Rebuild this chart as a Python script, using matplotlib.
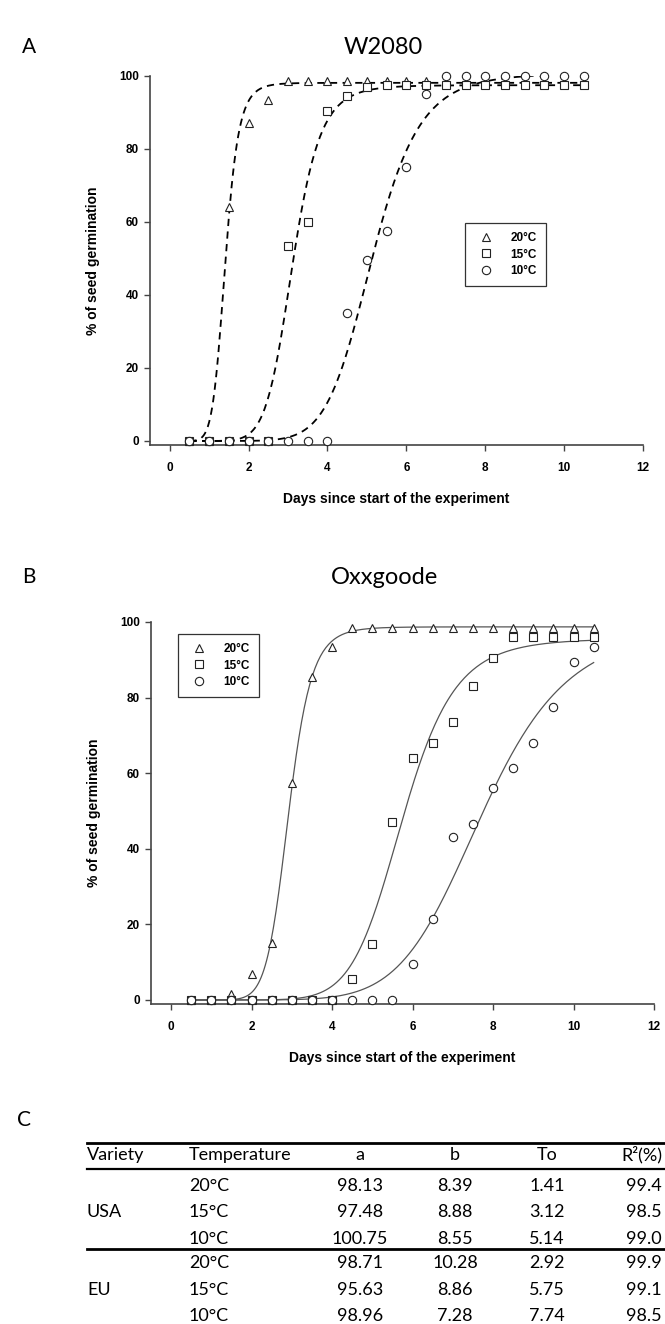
import numpy as np
import matplotlib.pyplot as plt
from matplotlib.lines import Line2D

plt.rcParams['font.family'] = ['Liberation Sans', 'DejaVu Sans']

# sampling days (every half day)
days = [0.5, 1.0, 1.5, 2.0, 2.5, 3.0, 3.5, 4.0, 4.5, 5.0, 5.5,
        6.0, 6.5, 7.0, 7.5, 8.0, 8.5, 9.0, 9.5, 10.0, 10.5]

# Panel A - W2080 (USA)
days_a20 = [0.5, 1.0, 1.5, 2.0, 2.5, 3.0, 3.5, 4.0, 4.5, 5.0, 5.5, 6.0, 6.5]
germ_a20 = [0, 0, 64, 87, 93.5, 98.5, 98.5, 98.5, 98.5, 98.5, 98.5, 98.5, 98.5]
germ_a15 = [0, 0, 0, 0, 0, 53.5, 60, 90.5, 94.5, 97, 97.5,
            97.5, 97.5, 97.5, 97.5, 97.5, 97.5, 97.5, 97.5, 97.5, 97.5]
germ_a10 = [0, 0, 0, 0, 0, 0, 0, 0, 35, 49.5, 57.5,
            75, 95, 100, 100, 100, 100, 100, 100, 100, 100]

# Panel B - Oxxgoode (EU)
germ_b20 = [0, 0, 1.5, 7, 15, 57.5, 85.5, 93.5, 98.5, 98.5, 98.5,
            98.5, 98.5, 98.5, 98.5, 98.5, 98.5, 98.5, 98.5, 98.5, 98.5]
germ_b15 = [0, 0, 0, 0, 0, 0, 0, 0, 5.5, 14.7, 47,
            64, 68, 73.5, 83, 90.5, 96, 96, 96, 96, 96]
germ_b10 = [0, 0, 0, 0, 0, 0, 0, 0, 0, 0, 0,
            9.4, 21.3, 43, 46.5, 56, 61.5, 68, 77.5, 89.5, 93.5]

# Panel C - fitted parameters
varieties = ['USA', 'EU']
temps = ['20°C', '15°C', '10°C']
par_a = [[98.13, 97.48, 100.75], [98.71, 95.63, 98.96]]
par_b = [[8.39, 8.88, 8.55], [10.28, 8.86, 7.28]]
par_to = [[1.41, 3.12, 5.14], [2.92, 5.75, 7.74]]
r2 = [[99.4, 98.5, 99.0], [99.9, 99.1, 98.5]]


def loglogistic(x, a, b, t0):
    return a / (1 + (x / t0) ** (-b))


W, H = 665, 1324
fig = plt.figure(figsize=(W / 100, H / 100), dpi=100)


def px_axes(left, right, top, bottom):
    return fig.add_axes([left / W, 1 - bottom / H, (right - left) / W, (bottom - top) / H])


def style_axes(ax, ymin):
    ax.set_xlim(-0.5, 12)
    ax.set_ylim(ymin, 100)
    ax.set_xticks([0, 2, 4, 6, 8, 10, 12])
    ax.set_yticks([0, 20, 40, 60, 80, 100])
    for s in ['top', 'right']:
        ax.spines[s].set_visible(False)
    for s in ['left', 'bottom']:
        ax.spines[s].set_color('#444444')
        ax.spines[s].set_linewidth(1.2)
    ax.tick_params(direction='out', length=4, width=1, color='#444444',
                   labelsize=8.5)
    ax.tick_params(axis='x', pad=8)
    ax.tick_params(axis='y', pad=4)
    for lab in ax.get_xticklabels() + ax.get_yticklabels():
        lab.set_fontweight('bold')
    ax.set_xlabel('Days since start of the experiment', fontsize=10,
                  fontweight='bold', labelpad=13)
    ax.set_ylabel('% of seed germination', fontsize=10, fontweight='bold',
                  labelpad=14)


mk = dict(linestyle='none', markerfacecolor='white', markeredgecolor='#222222',
          markersize=6, markeredgewidth=0.8, clip_on=False, zorder=3)
x_fit = np.linspace(0.5, 10.5, 300)


def add_legend(ax, anchor):
    handles = [Line2D([], [], marker=m, linestyle='none', markerfacecolor='white',
                      markeredgecolor='#222222', markersize=6, markeredgewidth=0.8)
               for m in ['^', 's', 'o']]
    leg = ax.legend(handles, temps, loc='upper left', bbox_to_anchor=anchor,
                    frameon=True, fancybox=False, edgecolor='black',
                    prop={'weight': 'bold', 'size': 8.5}, handlelength=2.0,
                    handletextpad=1.1, borderpad=0.75, labelspacing=0.4,
                    borderaxespad=0)
    leg.get_frame().set_linewidth(0.9)


# ---- panel A ----
axA = px_axes(150, 643, 76, 445)
for i in range(3):
    axA.plot(x_fit, loglogistic(x_fit, par_a[0][i], par_b[0][i], par_to[0][i]),
             color='black', linestyle=(0, (4, 3)), linewidth=1.3, zorder=2)
axA.plot(days_a20, germ_a20, marker='^', **mk)
axA.plot(days, germ_a15, marker='s', **mk)
axA.plot(days, germ_a10, marker='o', **mk)
style_axes(axA, -1.1)
add_legend(axA, ((465 - 150) / 493, (445 - 223) / 369))

# ---- panel B ----
axB = px_axes(151, 654, 622, 1004)
for i in range(3):
    axB.plot(x_fit, loglogistic(x_fit, par_a[1][i], par_b[1][i], par_to[1][i]),
             color='#555555', linestyle='-', linewidth=0.9, zorder=2)
axB.plot(days, germ_b20, marker='^', **mk)
axB.plot(days, germ_b15, marker='s', **mk)
axB.plot(days, germ_b10, marker='o', **mk)
style_axes(axB, -1.06)
add_legend(axB, ((178 - 151) / 503, (1004 - 634) / 382))

# ---- overlay for titles and table (pixel coordinates) ----
ov = fig.add_axes([0, 0, 1, 1])
ov.set_xlim(0, W)
ov.set_ylim(H, 0)
ov.axis('off')

tf = ['Lato', 'DejaVu Sans']
ov.text(22, 47, 'A', fontsize=15, family=tf, va='center', ha='left')
ov.text(383, 47, 'W2080', fontsize=17, family=tf, va='center', ha='center')
ov.text(22, 577, 'B', fontsize=15, family=tf, va='center', ha='left')
ov.text(385, 578, 'Oxxgoode', fontsize=17, family=tf, va='center', ha='center')
ov.text(17, 1120, 'C', fontsize=15, family=tf, va='center', ha='left')

# table
x_var, x_temp = 87, 189
x_cols = [360, 455, 547, 644]
y_head = 1155
row_y = [[1186, 1212, 1239], [1263, 1290, 1316]]
fs = 13

ov.plot([87, 665], [1143, 1143], color='black', linewidth=2)
ov.plot([87, 665], [1169, 1169], color='black', linewidth=1.6)
ov.plot([87, 665], [1249, 1249], color='black', linewidth=2)

ov.text(x_var, y_head, 'Variety', fontsize=fs, family=tf, va='center', ha='left')
ov.text(x_temp, y_head, 'Temperature', fontsize=fs, family=tf, va='center', ha='left')
for x, h in zip(x_cols[:3], ['a', 'b', 'To']):
    ov.text(x, y_head, h, fontsize=fs, family=tf, va='center', ha='center')
ov.text(662, y_head, 'R²(%)', fontsize=fs, family=tf, va='center', ha='right')

for v in range(2):
    ov.text(x_var, row_y[v][1], varieties[v], fontsize=fs, family=tf,
            va='center', ha='left')
    for r in range(3):
        y = row_y[v][r]
        ov.text(x_temp, y, temps[r], fontsize=fs, family=tf, va='center', ha='left')
        vals = [f'{par_a[v][r]:.2f}', f'{par_b[v][r]:.2f}',
                f'{par_to[v][r]:.2f}', f'{r2[v][r]:.1f}']
        for x, s in zip(x_cols, vals):
            ov.text(x, y, s, fontsize=fs, family=tf, va='center', ha='center')

fig.savefig('out.png', dpi=100)
